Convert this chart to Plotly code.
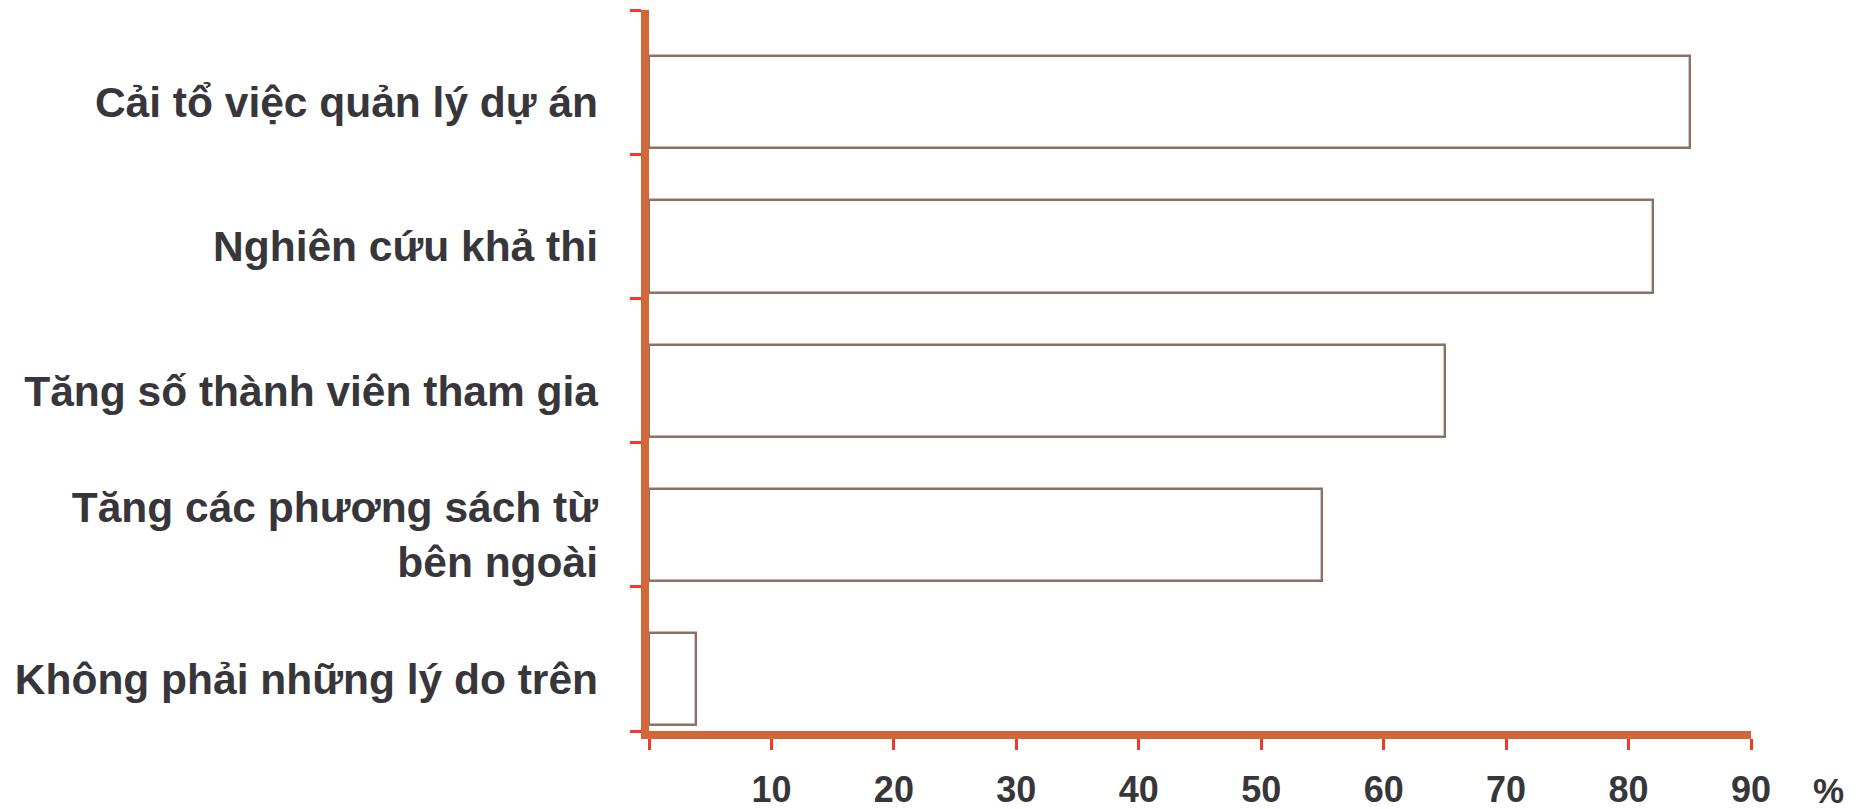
import numpy as np
import plotly.graph_objects as go

categories = [
    "Cải tổ việc quản lý dự án",
    "Nghiên cứu khả thi",
    "Tăng số thành viên tham gia",
    "Tăng các phương sách từ<br>bên ngoài",
    "Không phải những lý do trên",
]
values = [85, 82, 65, 55, 3.8]
x_ticks = [0, 10, 20, 30, 40, 50, 60, 70, 80, 90]
x_tick_labels = ["", "10", "20", "30", "40", "50", "60", "70", "80", "90"]
x_unit = "%"

AXIS = "#D2683A"
BAR_LINE = "#8C7262"
TICK = "#F03A2A"
TEXT = "#37363B"
FONT = "Liberation Sans, Arial, sans-serif"

n = len(categories)
slot = np.arange(n)              # category slots (top to bottom)
bar_w = 0.64
bar_pos = slot + 0.64            # bars sit low in each slot
boundaries = list(range(n + 1))

fig = go.Figure()
fig.add_trace(go.Bar(
    x=values, y=bar_pos, orientation="h", width=bar_w,
    marker=dict(color="white", line=dict(color=BAR_LINE, width=2.4)),
    yaxis="y", hoverinfo="x",
))
# invisible trace carrying the category labels axis
fig.add_trace(go.Scatter(
    x=[0] * n, y=bar_pos, yaxis="y2", mode="markers",
    marker=dict(opacity=0), hoverinfo="skip", showlegend=False,
))

fig.update_layout(
    width=1864, height=809,
    margin=dict(l=649, r=113, t=10, b=78),
    paper_bgcolor="white", plot_bgcolor="white",
    showlegend=False,
    bargap=0,
    xaxis=dict(
        range=[0, 90], tickvals=x_ticks, ticktext=x_tick_labels,
        automargin=False,
        showgrid=False, zeroline=False,
        showline=True, linecolor=AXIS, linewidth=8,
        ticks="outside", ticklen=11, tickwidth=2.5, tickcolor=TICK,
        ticklabelstandoff=9,
        tickfont=dict(family=FONT, size=36, color=TEXT, weight="bold"),
    ),
    yaxis=dict(
        range=[n, 0], tickvals=boundaries, ticktext=[""] * (n + 1),
        automargin=False,
        showgrid=False, zeroline=False,
        showline=True, linecolor=AXIS, linewidth=8,
        ticks="outside", ticklen=11, tickwidth=2.5, tickcolor=TICK,
    ),
    yaxis2=dict(
        overlaying="y", side="left", anchor="x",
        automargin=False,
        range=[n, 0], tickvals=list(bar_pos), ticktext=categories,
        showgrid=False, zeroline=False, showline=False, ticks="",
        ticklabelstandoff=50,
        tickfont=dict(family=FONT, size=42.5, color=TEXT, weight="bold"),
    ),
    annotations=[dict(
        text=x_unit, xref="paper", yref="paper", x=1.07, y=-0.082,
        xanchor="center", yanchor="middle", showarrow=False,
        font=dict(family=FONT, size=35, color=TEXT, weight="bold"),
    )],
)

fig.write_html("out.html")
